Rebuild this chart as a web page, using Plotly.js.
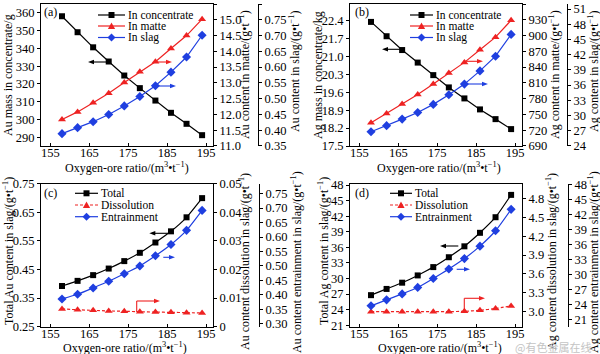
<!DOCTYPE html>
<html>
<head>
<meta charset="utf-8">
<script src="https://cdn.plot.ly/plotly-3.0.1.min.js"></script>
<style>html,body{margin:0;padding:0;background:#fff;}#chart{width:600px;height:354px;}</style>
</head>
<body>
<div id="chart"></div>
<script>
// ---------------- data ----------------
const oxygenRatio = [158, 162, 166, 170, 174, 178, 182, 186, 190, 194];

const auConcentrate = [358.1, 349.1, 340.6, 332.6, 324.7, 317.6, 310.6, 303.7, 297.5, 291.1];
const auMatte = [11.84, 12.08, 12.37, 12.67, 13.01, 13.35, 13.67, 14.09, 14.50, 15.02];
const auSlag = [0.389, 0.408, 0.427, 0.450, 0.477, 0.507, 0.541, 0.584, 0.632, 0.701];

const agConcentrate = [22.35, 21.79, 21.25, 20.76, 20.27, 19.79, 19.36, 18.93, 18.55, 18.16];
const agMatte = [734, 752, 770, 788, 808, 829, 849, 873, 897, 929];
const agSlag = [26.8, 28.0, 29.3, 30.6, 32.2, 34.1, 36.2, 38.8, 41.7, 46.0];

const auTotal = [0.392, 0.410, 0.430, 0.453, 0.479, 0.508, 0.544, 0.583, 0.632, 0.699];
const auDissolution = [0.0062, 0.0059, 0.0057, 0.0055, 0.0054, 0.0052, 0.0051, 0.0050, 0.0049, 0.0048];
const auEntrainment = [0.386, 0.402, 0.424, 0.447, 0.473, 0.500, 0.535, 0.574, 0.623, 0.692];

const agTotal = [26.8, 28.0, 29.2, 30.6, 32.2, 34.1, 36.2, 38.8, 41.8, 46.1];
const agDissolution = [3.00, 3.00, 3.00, 3.00, 3.00, 3.00, 3.005, 3.02, 3.05, 3.09];
const agEntrainment = [23.7, 24.9, 26.1, 27.4, 29.2, 31.1, 33.2, 35.7, 38.8, 43.1];

const legendAB = ['In concentrate', 'In matte', 'In slag'];
const legendCD = ['Total', 'Dissolution', 'Entrainment'];
const panelLabels = ['(a)', '(b)', '(c)', '(d)'];
const xTitle = 'Oxygen-ore ratio/(m<sup>3</sup>•t<sup>−1</sup>)';
const yTitles = [
  ['Au mass in concentrate/g', 'Au content in matte/(g•t<sup>−1</sup>)', 'Au content in slag/(g•t<sup>−1</sup>)'],
  ['Ag mass in concentrate/kg', 'Ag content in matte/(g•t<sup>−1</sup>)', 'Ag content in slag/(g•t<sup>−1</sup>)'],
  ['Total Au content in slag/(g•t<sup>−1</sup>)', 'Au content dissolution in slag/(g•t<sup>−1</sup>)', 'Au content entrainment in slag/(g•t<sup>−1</sup>)'],
  ['Total Ag content in slag/(g•t<sup>−1</sup>)', 'Ag content dissolution in slag/(g•t<sup>−1</sup>)', 'Ag content entrainment in slag/(g•t<sup>−1</sup>)']
];
const watermark = '@有色金属在线';

// ---------------- layout helpers ----------------
const W = 600, H = 354;
const px = x => x / W;
const py = y => 1 - y / H;
const FAMILY = 'Liberation Serif, Times New Roman, serif';
const FONT = {family: FAMILY, size: 12, color: '#000'};
const TICKFONT = {family: FAMILY, size: 12.5, color: '#000'};
const BLACK = '#000000', RED = '#ee2222', BLUE = '#1f3fe0';

const panels = [
  {x0: 41, x1: 213, y0: 4, y1: 146, ax3: 258,
   ranges: [[285, 365], [10.999, 15.501], [0.3499, 0.8001]], dticks: [[290, 10], [11, 0.5], [0.35, 0.05]],
   fmts: ['', '.1f', '.2f'], series: [auConcentrate, auMatte, auSlag], names: legendAB,
   titles: {l: [8, 75], r1: [244, 75], r2: [294, 72], x: [127, 167.5]},
   leg: {x0: 98, x1: 125, tx: 126, ys: [15, 26, 37.5]}, lab: [50, 12]},
  {x0: 350, x1: 522, y0: 4, y1: 146, ax3: 567,
   ranges: [[17.4999, 23.05], [689.99, 960.01], [23.99, 52]], dticks: [[17.5, 0.7], [690, 30], [24, 3]],
   fmts: ['.1f', '', ''], series: [agConcentrate, agMatte, agSlag], names: legendAB,
   titles: {l: [318, 75], r1: [554, 75], r2: [593, 72], x: [439, 167.5]},
   leg: {x0: 410, x1: 433, tx: 434, ys: [15, 26, 37.5]}, lab: [362, 12]},
  {x0: 41, x1: 213, y0: 183.5, y1: 326.7, ax3: 259,
   ranges: [[0.2499, 0.7501], [-0.00001, 0.05001], [0.29, 0.785]], dticks: [[0.25, 0.1], [0, 0.01], [0.3, 0.05]],
   fmts: ['.2f', '', '.2f'], series: [auTotal, auDissolution, auEntrainment], names: legendCD,
   titles: {l: [8, 251], r1: [244, 262], r2: [296, 262], x: [125, 347.5]},
   leg: {x0: 75, x1: 98, tx: 99, ys: [193.3, 205, 216.7]}, lab: [50, 193]},
  {x0: 350, x1: 522, y0: 183.5, y1: 326.7, ax3: 568,
   ranges: [[20.73, 48.29], [2.76, 5.04], [19.5, 48.3]], dticks: [[21, 3], [3.0, 0.3], [21, 3]],
   fmts: ['', '.1f', ''], series: [agTotal, agDissolution, agEntrainment], names: legendCD,
   titles: {l: [323, 251], r1: [551, 262], r2: [593, 262], x: [440, 347.5]},
   leg: {x0: 390, x1: 412, tx: 413, ys: [193.3, 205, 216.7]}, lab: [362, 193]}
];

const styles = [
  {color: BLACK, symbol: 'square', size: 6},
  {color: RED, symbol: 'triangle-up', size: 7},
  {color: BLUE, symbol: 'diamond', size: 7}
];

const data = [];
const layout = {
  width: W, height: H,
  margin: {l: 0, r: 0, t: 0, b: 0},
  paper_bgcolor: '#fff', plot_bgcolor: 'rgba(0,0,0,0)',
  showlegend: false,
  font: FONT,
  shapes: [], annotations: []
};

function axisCommon(extra) {
  return Object.assign({
    showline: true, linecolor: '#000', linewidth: 1, showgrid: false, zeroline: false,
    ticks: 'outside', ticklen: 3, tickwidth: 1, tickcolor: '#000', tickfont: TICKFONT,
    tickmode: 'linear', automargin: false, fixedrange: true
  }, extra);
}

panels.forEach((p, i) => {
  const xi = i + 1;
  const xName = xi === 1 ? 'xaxis' : 'xaxis' + xi;
  const xRef = xi === 1 ? 'x' : 'x' + xi;
  const yIdx = [3 * i + 1, 3 * i + 2, 3 * i + 3];
  const yName = k => (k === 1 ? 'yaxis' : 'yaxis' + k);
  const yRef = k => (k === 1 ? 'y' : 'y' + k);

  layout[xName] = axisCommon({
    domain: [px(p.x0), px(p.x1)], range: [152.6, 196.8], anchor: yRef(yIdx[0]),
    tick0: 155, dtick: 10, ticks: 'inside', mirror: true, ticklabelstandoff: -5
  });
  const ydom = [py(p.y1), py(p.y0)];
  layout[yName(yIdx[0])] = axisCommon({
    domain: ydom, range: p.ranges[0], anchor: xRef, side: 'left',
    tick0: p.dticks[0][0], dtick: p.dticks[0][1], tickformat: p.fmts[0]
  });
  layout[yName(yIdx[1])] = axisCommon({
    domain: ydom, range: p.ranges[1], anchor: xRef, side: 'right', overlaying: yRef(yIdx[0]),
    tick0: p.dticks[1][0], dtick: p.dticks[1][1], tickformat: p.fmts[1]
  });
  layout[yName(yIdx[2])] = axisCommon({
    domain: ydom, range: p.ranges[2], anchor: 'free', position: px(p.ax3), side: 'right',
    overlaying: yRef(yIdx[0]),
    tick0: p.dticks[2][0], dtick: p.dticks[2][1], tickformat: p.fmts[2]
  });

  const cd = i >= 2;
  p.series.forEach((ser, k) => {
    const st = styles[k];
    const dashed = cd && k === 1;
    data.push({
      x: oxygenRatio, y: ser, xaxis: xRef, yaxis: yRef(yIdx[k]),
      type: 'scatter', mode: 'lines+markers', name: p.names[k],
      line: {color: st.color, width: 1.2, dash: dashed ? '3px,2px' : 'solid', shape: cd ? 'spline' : 'linear', smoothing: 0.5},
      marker: {color: st.color, symbol: st.symbol, size: st.size, line: {width: 0}},
      cliponaxis: false
    });

    // legend sample (drawn as shapes + text)
    const ly = p.leg.ys[k];
    const cx = (p.leg.x0 + p.leg.x1) / 2;
    layout.shapes.push({type: 'line', xref: 'paper', yref: 'paper',
      x0: px(p.leg.x0), x1: px(p.leg.x1), y0: py(ly), y1: py(ly),
      line: {color: st.color, width: 1.2, dash: dashed ? '3px,2px' : 'solid'}});
    let path;
    if (k === 0) {
      path = `M${px(cx - 3)},${py(ly - 3)} L${px(cx + 3)},${py(ly - 3)} L${px(cx + 3)},${py(ly + 3)} L${px(cx - 3)},${py(ly + 3)} Z`;
    } else if (k === 1) {
      path = `M${px(cx - 3.6)},${py(ly + 3)} L${px(cx + 3.6)},${py(ly + 3)} L${px(cx)},${py(ly - 3.6)} Z`;
    } else {
      path = `M${px(cx)},${py(ly - 4)} L${px(cx + 4)},${py(ly)} L${px(cx)},${py(ly + 4)} L${px(cx - 4)},${py(ly)} Z`;
    }
    layout.shapes.push({type: 'path', xref: 'paper', yref: 'paper', path: path,
      fillcolor: st.color, line: {color: st.color, width: 0}});
    layout.annotations.push({xref: 'paper', yref: 'paper', x: px(p.leg.tx), y: py(ly),
      xanchor: 'left', yanchor: 'middle', text: p.names[k], showarrow: false,
      font: {family: FAMILY, size: 11.5, color: '#000'}});
  });

  // axis titles
  const t = p.titles;
  [[t.l, yTitles[i][0]], [t.r1, yTitles[i][1]], [t.r2, yTitles[i][2]]].forEach(([pos, txt]) => {
    layout.annotations.push({xref: 'paper', yref: 'paper', x: px(pos[0]), y: py(pos[1]),
      xanchor: 'center', yanchor: 'middle', textangle: -90, text: txt, showarrow: false, font: FONT});
  });
  layout.annotations.push({xref: 'paper', yref: 'paper', x: px(t.x[0]), y: py(t.x[1]),
    xanchor: 'center', yanchor: 'middle', text: xTitle, showarrow: false, font: FONT});
  // panel label
  layout.annotations.push({xref: 'paper', yref: 'paper', x: px(p.lab[0]), y: py(p.lab[1]),
    xanchor: 'center', yanchor: 'middle', text: panelLabels[i], showarrow: false, font: FONT});
});

// indicator arrows (decorations drawn as shapes, pixel positions)
function seg(x0, y0, x1, y1, color) {
  layout.shapes.push({type: 'line', xref: 'paper', yref: 'paper', x0: px(x0), y0: py(y0), x1: px(x1), y1: py(y1),
    line: {color: color, width: 1.1}});
}
function arrow(tailX, y, headX, color) {
  const d = headX > tailX ? 1 : -1;
  seg(tailX, y, headX - d * 3, y, color);
  const bx = headX - d * 6;
  layout.shapes.push({type: 'path', xref: 'paper', yref: 'paper',
    path: `M${px(headX)},${py(y)} L${px(bx)},${py(y - 2.3)} L${px(bx)},${py(y + 2.3)} Z`,
    fillcolor: color, line: {color: color, width: 0}});
}
// (a)
arrow(110, 62, 88, BLACK);
arrow(157, 62, 172, RED);
arrow(155, 86, 176, BLUE);
// (b)
arrow(402, 49.3, 382, BLACK);
arrow(463, 61.3, 483, RED);
arrow(464, 84, 488, BLUE);
// (c)
arrow(170, 233.3, 149.3, BLACK);
arrow(163.3, 257.3, 175, BLUE);
seg(136.7, 312, 136.7, 301, RED);
arrow(136.7, 301, 160, RED);
// (d)
arrow(458.3, 246, 440, BLACK);
arrow(456.7, 269.3, 470, BLUE);
seg(464.3, 311.7, 464.3, 298.3, RED);
arrow(464.3, 298.3, 485, RED);

layout.annotations.push({xref: 'paper', yref: 'paper', x: px(553), y: py(347), xanchor: 'center', yanchor: 'middle',
  text: watermark, showarrow: false, font: {family: 'Noto Sans CJK SC, sans-serif', size: 11, color: '#c4c4c4'}});

Plotly.newPlot('chart', data, layout, {displayModeBar: false, staticPlot: true});
</script>
</body>
</html>
